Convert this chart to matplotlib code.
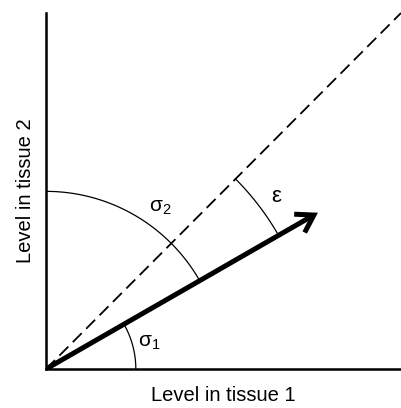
import numpy as np
import matplotlib
matplotlib.use("Agg")
import matplotlib.pyplot as plt
from matplotlib.patches import FancyArrowPatch

plt.rcParams['font.family'] = ['Liberation Sans', 'DejaVu Sans']
plt.rcParams['mathtext.fontset'] = 'custom'
plt.rcParams['mathtext.rm'] = 'Liberation Sans'

# expression vector (level in tissue 1, level in tissue 2)
expr = [7.66, 4.39]
lim = 10.0
# arc radii for the angle markers
r_sigma1, r_sigma2, r_eps = 2.53, 4.99, 7.55

theta = np.arctan2(expr[1], expr[0])

fig = plt.figure(figsize=(4.01, 4.08), dpi=100)
ax = fig.add_axes([46 / 401, (408 - 369) / 408, 355 / 401, 356 / 408])
ax.set_xlim(0, lim)
ax.set_ylim(0, lim)

for s in ['top', 'right']:
    ax.spines[s].set_visible(False)
for s in ['left', 'bottom']:
    ax.spines[s].set_linewidth(1.8)
ax.set_xticks([])
ax.set_yticks([])
ax.set_xlabel('Level in tissue 1', fontsize=14.5, labelpad=12)
ax.set_ylabel('Level in tissue 2', fontsize=14.5, labelpad=8)

# diagonal (equal expression)
ax.plot([0, lim], [0, lim], color='black', lw=1.3, ls=(0, (7, 3.5)), clip_on=False)

# expression vector
arr = FancyArrowPatch((0, 0), tuple(expr), arrowstyle='->,head_length=0.6,head_width=0.38',
                      lw=3.6, color='black', mutation_scale=20, shrinkA=0, shrinkB=0,
                      capstyle='butt', joinstyle='miter')
ax.add_patch(arr)

def arc(r, a0, a1):
    t = np.linspace(a0, a1, 100)
    ax.plot(r * np.cos(t), r * np.sin(t), color='black', lw=0.9)

arc(r_sigma1, 0, theta)
arc(r_sigma2, theta, np.pi / 2)
arc(r_eps, theta, np.pi / 4)

ax.text(2.6, 0.75, r'$\mathregular{σ_1}$', fontsize=15, ha='left', va='center')
ax.text(2.9, 4.55, r'$\mathregular{σ_2}$', fontsize=15, ha='left', va='center')
ax.text(6.35, 4.85, 'ε', fontsize=16, ha='left', va='center')

fig.savefig('out.png', dpi=100)
